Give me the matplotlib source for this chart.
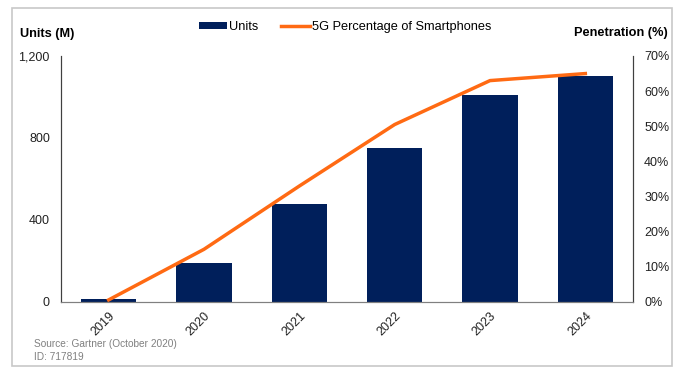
import matplotlib.pyplot as plt
from matplotlib.patches import Rectangle
from matplotlib.ticker import FuncFormatter

plt.rcParams['font.family'] = ['Liberation Sans', 'DejaVu Sans']

years = ["2019", "2020", "2021", "2022", "2023", "2024"]
units = [15, 192, 477, 752, 1008, 1102]
pct_5g = [0.6, 15.0, 33.0, 50.5, 63.0, 65.0]

NAVY = "#001f5b"
ORANGE = "#ff6a13"

fig = plt.figure(figsize=(6.81, 3.68), dpi=100)
ax = fig.add_axes([61 / 681, 1 - 302 / 368, 572 / 681, 246 / 368])

x = range(len(years))
bars = ax.bar(x, units, width=0.58, color=NAVY, label="Units", zorder=2)
ax.set_xlim(-0.5, 5.5)
ax.set_ylim(0, 1200)
ax.set_yticks([0, 400, 800, 1200])
ax.yaxis.set_major_formatter(FuncFormatter(lambda v, p: f"{int(v):,}"))
ax.set_xticks(list(x))
ax.set_xticklabels(years, rotation=45, ha="right", rotation_mode="anchor")
ax.tick_params(axis="both", length=0, labelsize=9, colors="#222222")
ax.tick_params(axis="y", pad=8)
ax.tick_params(axis="x", pad=6)

ax2 = ax.twinx()
line, = ax2.plot(x, pct_5g, color=ORANGE, lw=2.5, label="5G Percentage of Smartphones", zorder=3)
ax2.set_ylim(0, 70)
ax2.set_yticks(range(0, 71, 10))
ax2.yaxis.set_major_formatter(FuncFormatter(lambda v, p: f"{int(v)}%"))
ax2.tick_params(axis="y", length=0, labelsize=9, colors="#222222", pad=8)

for a in (ax, ax2):
    a.spines["top"].set_visible(False)
    a.spines["left"].set_color("#404040")
    a.spines["right"].set_color("#404040")
    a.spines["bottom"].set_color("#808080")

fig.text(20 / 681, 1 - 34 / 368, "Units (M)", fontsize=9.2, fontweight="bold", va="center")
fig.text(668 / 681, 1 - 33 / 368, "Penetration (%)", fontsize=9.2, fontweight="bold",
         va="center", ha="right")

fig.legend([bars, line], ["Units", "5G Percentage of Smartphones"], loc="center",
           bbox_to_anchor=(345 / 681, 1 - 27 / 368), ncol=2, frameon=False, fontsize=9.2,
           handlelength=2.2, handleheight=0.4, columnspacing=1.8, handletextpad=0.2)

fig.text(34 / 681, 1 - 344 / 368, "Source: Gartner (October 2020)", fontsize=7.3,
         color="#808080", va="center")
fig.text(34 / 681, 1 - 357 / 368, "ID: 717819", fontsize=7.3, color="#808080", va="center")

fig.patches.append(Rectangle((12 / 681, 2 / 368), 660 / 681, 358 / 368, transform=fig.transFigure,
                             fill=False, edgecolor="#c8c8c8", lw=1.2))

fig.savefig("out.png", dpi=100)
